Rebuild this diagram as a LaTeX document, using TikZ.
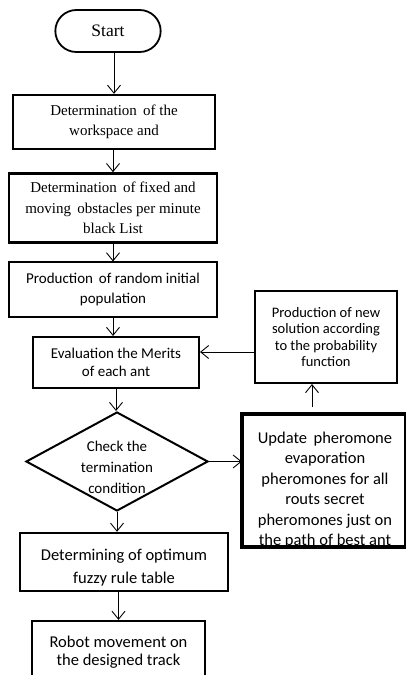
\documentclass[tikz,border=0pt]{standalone}
\usepackage{fontspec}
\setmainfont{Carlito}
\newfontfamily\timesfont{Liberation Serif}
\usetikzlibrary{shapes.geometric,shapes.misc,arrows.meta}
\tikzset{
  box/.style={draw, rectangle, align=center, inner sep=0pt, line width=2pt},
  arr/.style={-{Straight Barb[length=8pt,width=13pt]}, line width=0.9pt},
  serif/.style={font={\timesfont\fontsize{15}{20.5}\selectfont}},
  sans/.style={font={\fontsize{15}{20}\selectfont}},
}
\begin{document}
\begin{tikzpicture}[x=1pt,y=-1pt]
\useasboundingbox (0,0) rectangle (405,675);
% main column
\node[draw, rounded rectangle, line width=1.8pt, minimum width=112pt, minimum height=42pt,
  font={\timesfont\fontsize{17.5}{20}\selectfont}] (start) at (108,31) {Start};
\node[box, serif, line width=2.3pt, minimum width=202pt, minimum height=54pt] (work) at (114,122)
  {Determination\, of the\\workspace and};
\node[box, serif, line width=2.6pt, minimum width=208pt, minimum height=69pt] (obst) at (113,208)
  {Determination\, of fixed and\\moving\, obstacles per minute\\black List};
\node[box, sans, line width=1.1pt, minimum width=208pt, minimum height=55pt] (pop) at (113,289.5)
  {Production\, of random initial\\population};
\node[box, sans, minimum width=166pt, minimum height=51pt, font={\fontsize{15}{18.5}\selectfont}] (eval) at (116,362.5)
  {Evaluation the Merits\\of each ant};
\node[draw, diamond, aspect=1.84, line width=2pt, inner sep=-12pt, align=center, minimum width=182pt, minimum height=99pt,
  font={\fontsize{15}{21}\selectfont}] (check) at (117,461.5)
  {\rule{0pt}{23pt}Check the\\termination\\condition};
\node[box, line width=2.4pt, minimum width=208pt, minimum height=58pt, font={\fontsize{16.5}{23}\selectfont}] (table) at (124,562)
  {\rule{0pt}{22pt}Determining of optimum\\fuzzy rule table};
\node[box, line width=2.2pt, minimum width=173pt, minimum height=62pt,
  font={\fontsize{16.5}{18.5}\selectfont}] (robot) at (118.5,652)
  {Robot movement on\\the designed track};
% right column
\node[box, minimum width=142pt, minimum height=92pt, font={\fontsize{14.5}{16.5}\selectfont}] (newsol) at (326,337)
  {Production of new\\solution according\\to the probability\\function};
\node[rectangle, minimum width=163.5pt, minimum height=133pt] (update) at (323.75,480.5) {};
\node[anchor=north, align=center, inner sep=0pt, font={\fontsize{16.5}{20.4}\selectfont}] (updtxt)
  at ([xshift=1.25pt,yshift=-18pt]update.north)
  {Update\, pheromone\\evaporation\\pheromones for all\\routs secret\\pheromones just on\\the path of best ant};
\fill[white] (update.south west) rectangle ([yshift=-20pt]update.south east);
\draw[line width=3.5pt] (update.south west) rectangle (update.north east);
% connectors
\draw[arr] (start.south -| work.north) -- (work.north);
\draw[arr] (work.south -| obst.north) -- (obst.north);
\draw[arr] (obst.south -| pop.north) -- (pop.north);
\draw[arr] (pop.south) -- (pop.south |- eval.north);
\draw[arr] (eval.south) -- (eval.south |- check.north);
\draw[arr] (check.south) -- (check.south |- table.north);
\draw[arr] (table.south -| robot.north) -- (robot.north);
\draw[arr] (check.east) -- (check.east -| update.west);
\coordinate (up) at (312,407);
\draw[arr] (up) -- (up |- newsol.south);
\coordinate (back) at ([yshift=10.5pt]eval.east);
\draw[arr] (newsol.west |- back) -- (back);
\end{tikzpicture}
\end{document}
